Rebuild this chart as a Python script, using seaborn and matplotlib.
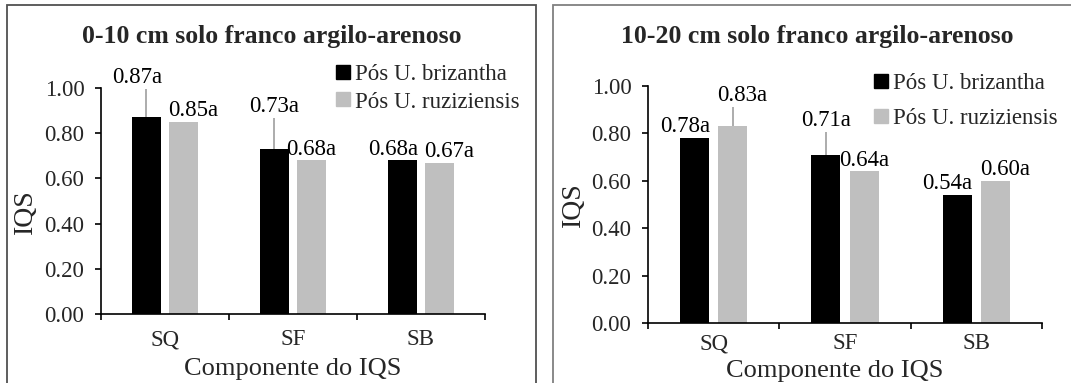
import numpy as np
import pandas as pd
import matplotlib
matplotlib.use("Agg")
import matplotlib.pyplot as plt
from matplotlib.lines import Line2D
from matplotlib.patches import Rectangle
from matplotlib.container import BarContainer
import seaborn as sns

# ---------------- data ----------------
componentes = ["SQ", "SF", "SB"]
tratamentos = ["Pós U. brizantha", "Pós U. ruziziensis"]

titulo_0_10 = "0-10 cm solo franco argilo-arenoso"
brizantha_0_10 = [0.87, 0.73, 0.68]
ruziziensis_0_10 = [0.85, 0.68, 0.67]
erro_brizantha_0_10 = [0.125, 0.137, 0.0]
erro_ruziziensis_0_10 = [0.0, 0.0, 0.0]
letras_brizantha_0_10 = ["a", "a", "a"]
letras_ruziziensis_0_10 = ["a", "a", "a"]

titulo_10_20 = "10-20 cm solo franco argilo-arenoso"
brizantha_10_20 = [0.78, 0.71, 0.54]
ruziziensis_10_20 = [0.83, 0.64, 0.60]
erro_brizantha_10_20 = [0.0, 0.096, 0.0]
erro_ruziziensis_10_20 = [0.083, 0.0, 0.0]
letras_brizantha_10_20 = ["a", "a", "a"]
letras_ruziziensis_10_20 = ["a", "a", "a"]

yticks = [0.0, 0.2, 0.4, 0.6, 0.8, 1.0]
xlabel = "Componente do IQS"
ylabel = "IQS"

cores = {"Pós U. brizantha": "#000000", "Pós U. ruziziensis": "#bfbfbf"}
cor_erro = "#a6a6a6"

# ---------------- style ----------------
sns.set_style("white")
plt.rcParams["font.family"] = ["Liberation Serif", "DejaVu Serif"]
plt.rcParams["axes.linewidth"] = 1.2

W, H = 1071, 383
fig = plt.figure(figsize=(W / 100, H / 100), dpi=100)


def painel(rect, titulo, b, r, eb, er, lb, lr, title_xy, xlab_xy, ylab_xy,
           leg_xy, leg_sp, xpad):
    ax = fig.add_axes(rect)
    df = pd.DataFrame({
        "componente": componentes * 2,
        "tratamento": [tratamentos[0]] * 3 + [tratamentos[1]] * 3,
        "IQS": list(b) + list(r),
    })
    sns.barplot(data=df, x="componente", y="IQS", hue="tratamento",
                order=componentes, hue_order=tratamentos, palette=cores,
                width=0.58, gap=0.24, errorbar=None, legend=False,
                saturation=1, linewidth=0, ax=ax)
    vals = [np.array(b), np.array(r)]
    errs = [np.array(eb), np.array(er)]
    letras = [lb, lr]
    tops = [vals[0] + errs[0], vals[1] + errs[1]]
    # labels of neighbouring bars pushed apart when at similar heights
    close = np.abs(tops[0] - tops[1]) < 0.15
    bar_conts = [c for c in ax.containers if isinstance(c, BarContainer)]
    for k, cont in enumerate(bar_conts):
        xs = [p.get_x() + p.get_width() / 2 for p in cont.patches]
        v = vals[k]
        e = errs[k]
        m = e > 0
        if m.any():
            ax.errorbar(np.array(xs)[m], v[m], yerr=[np.zeros(m.sum()), e[m]],
                        fmt="none", ecolor=cor_erro, elinewidth=1.3, capsize=0,
                        zorder=3)
        sign = -1 if k == 0 else 1
        for i, (x, vi, ei, le) in enumerate(zip(xs, v, e, letras[k])):
            dx = sign * 7 if close[i] else 0
            ax.annotate(f"{vi:.2f}{le}", (x, vi + ei), xytext=(dx, 0.5),
                        textcoords="offset points", ha="center", va="bottom",
                        fontsize=16.5, color="#000000", annotation_clip=False)
    ax.set_ylim(0, 1.0)
    ax.set_xlim(-0.5, 2.5)
    ax.set_yticks(yticks)
    ax.set_yticklabels([f"{t:.2f}" for t in yticks])
    ax.set_xticks(range(3))
    ax.set_xticklabels(componentes)
    ax.set_xticks([-0.5, 0.5, 1.5, 2.5], minor=True)
    ax.tick_params(axis="x", which="major", length=0, pad=xpad, labelsize=16.5)
    ax.tick_params(axis="x", which="minor", length=4, width=1.2, direction="out",
                   color="black", bottom=True)
    ax.tick_params(axis="y", which="major", length=4, width=1.2, direction="out",
                   color="black", left=True, pad=8, labelsize=16.5)
    for s in ["top", "right"]:
        ax.spines[s].set_visible(False)
    for s in ["left", "bottom"]:
        ax.spines[s].set_color("black")
        ax.spines[s].set_linewidth(1.2)
    ax.set_xlabel(xlabel, fontsize=19, va="center")
    ax.set_ylabel(ylabel, fontsize=20, va="center")
    ax.xaxis.set_label_coords(*xlab_xy)
    ax.yaxis.set_label_coords(*ylab_xy)
    fig.text(title_xy[0], title_xy[1], titulo, ha="center", va="center",
             fontsize=18.5, fontweight="bold")
    handles = [Line2D([], [], marker="s", linestyle="none", markersize=10,
                      markerfacecolor=cores[t], markeredgecolor=cores[t], label=t)
               for t in tratamentos]
    fig.legend(handles=handles, loc="upper left", bbox_to_anchor=leg_xy,
               bbox_transform=fig.transFigure, frameon=False, fontsize=16.5,
               handlelength=0.65, handletextpad=0.2, borderpad=0,
               borderaxespad=0, labelspacing=leg_sp)
    return ax


painel([101 / W, (H - 314) / H, 384 / W, 226 / H], titulo_0_10,
       brizantha_0_10, ruziziensis_0_10, erro_brizantha_0_10, erro_ruziziensis_0_10,
       letras_brizantha_0_10, letras_ruziziensis_0_10,
       (272 / W, 1 - 37 / H), (0.50, -0.245), (-0.196, 0.451),
       (336 / W, 1 - 64 / H), 0.28, 11)

painel([648 / W, (H - 323) / H, 394 / W, 237 / H], titulo_10_20,
       brizantha_10_20, ruziziensis_10_20, erro_brizantha_10_20, erro_ruziziensis_10_20,
       letras_brizantha_10_20, letras_ruziziensis_10_20,
       (817 / W, 1 - 37 / H), (0.475, -0.202), (-0.188, 0.498),
       (874 / W, 1 - 73 / H), 0.62, 7.5)

# panel frames
fig.patches.append(Rectangle((7 / W, -0.05), (536 - 7) / W, 1.05 - 5 / H,
                             transform=fig.transFigure, fill=False,
                             edgecolor="#505050", linewidth=1.3))
fig.patches.append(Rectangle((553 / W, -0.05), (1075 - 553) / W, 1.05 - 5 / H,
                             transform=fig.transFigure, fill=False,
                             edgecolor="#808080", linewidth=1.3))

fig.savefig("out.png", dpi=100)
